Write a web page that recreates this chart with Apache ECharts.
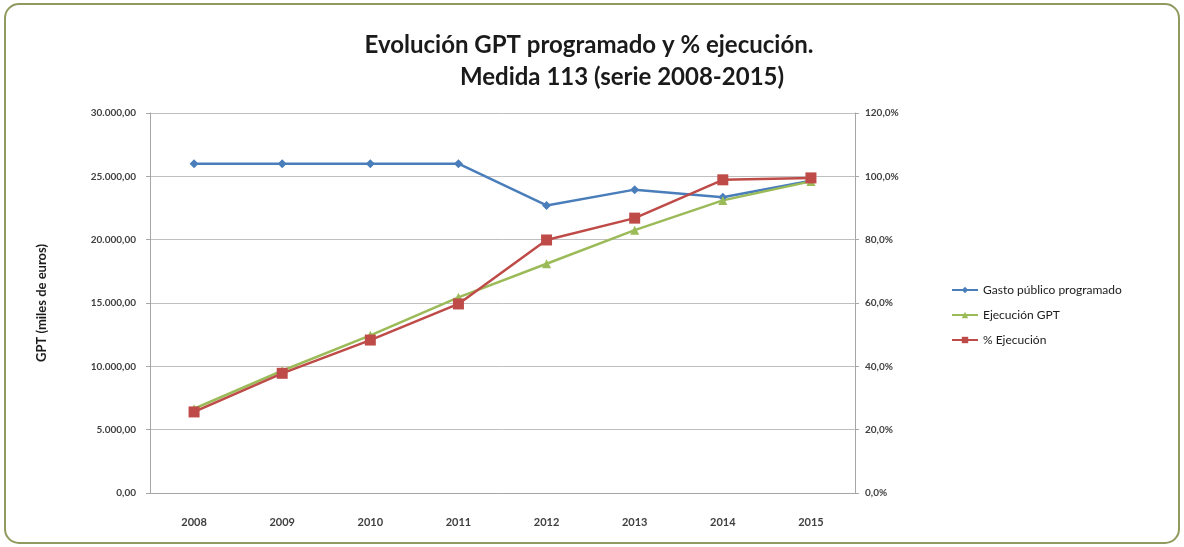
<!DOCTYPE html>
<html>
<head>
<meta charset="utf-8">
<script src="https://cdn.jsdelivr.net/npm/echarts@6/dist/echarts.min.js"></script>
<style>
  html, body { margin: 0; padding: 0; background: #fff; }
  #chart { width: 1184px; height: 547px; }
</style>
</head>
<body>
<div id="chart"></div>
<script>
// datos
const years = ['2008', '2009', '2010', '2011', '2012', '2013', '2014', '2015'];
const gastoProgramado = [26000, 26000, 26000, 26000, 22700, 23950, 23350, 24650];
const ejecucionGPT = [6650, 9650, 12450, 15450, 18100, 20750, 23100, 24600];
const pctEjecucion = [25.6, 37.8, 48.3, 59.7, 79.9, 86.8, 98.9, 99.5];

const fmtMiles = (v) => {
  const s = Math.round(v).toString().replace(/\B(?=(\d{3})+(?!\d))/g, '.');
  return s + ',00';
};
const fmtPct = (v) => v.toFixed(1).replace('.', ',') + '%';

const chartDom = document.getElementById('chart');
const myChart = echarts.init(chartDom);

const axisLabelStyle = { color: '#404040', fontSize: 10, fontWeight: 'bold', fontFamily: 'Lato' };
const titleStyle = { fontFamily: 'Lato', fontSize: 24, fontWeight: 'bold', color: '#1a1a1a' };

const option = {
  backgroundColor: '#fff',
  graphic: [
    {
      type: 'rect',
      shape: { x: 5, y: 4, width: 1174, height: 539, r: 14 },
      style: { fill: 'none', stroke: '#8f9a5e', lineWidth: 2 },
      silent: true
    }
  ],
  title: [
    {
      text: 'Evolución GPT programado y % ejecución.',
      left: 584, top: 28, textAlign: 'center',
      textStyle: titleStyle
    },
    {
      text: 'Medida 113 (serie 2008-2015)',
      left: 617, top: 60, textAlign: 'center',
      textStyle: titleStyle
    }
  ],
  legend: {
    orient: 'vertical',
    left: 946, top: 279,
    itemGap: 13,
    itemWidth: 26, itemHeight: 8,
    textStyle: { fontFamily: 'Lato', fontSize: 12, color: '#1a1a1a' },
    data: ['Gasto público programado', 'Ejecución GPT', '% Ejecución']
  },
  grid: { left: 150, right: 329, top: 113, bottom: 54 },
  xAxis: {
    type: 'category',
    data: years,
    boundaryGap: true,
    axisLine: { lineStyle: { color: '#a6a6a6' } },
    axisTick: { show: false },
    axisLabel: Object.assign({}, axisLabelStyle, { margin: 24, fontSize: 11 })
  },
  yAxis: [
    {
      type: 'value',
      min: 0, max: 30000, interval: 5000,
      name: 'GPT (miles de euros)',
      nameLocation: 'middle',
      nameGap: 102,
      nameTextStyle: { fontFamily: 'Lato', fontSize: 13, fontWeight: 'bold', color: '#1a1a1a' },
      axisLine: { show: true, lineStyle: { color: '#a6a6a6' } },
      axisTick: { show: true, length: 4, lineStyle: { color: '#a6a6a6' } },
      splitLine: { lineStyle: { color: '#bfbfbf', width: 1 } },
      axisLabel: Object.assign({ margin: 14, formatter: fmtMiles }, axisLabelStyle)
    },
    {
      type: 'value',
      min: 0, max: 120, interval: 20,
      position: 'right',
      axisLine: { show: true, lineStyle: { color: '#a6a6a6' } },
      axisTick: { show: true, length: 4, lineStyle: { color: '#a6a6a6' } },
      splitLine: { show: false },
      axisLabel: Object.assign({ margin: 10, formatter: fmtPct }, axisLabelStyle)
    }
  ],
  series: [
    {
      name: 'Gasto público programado',
      type: 'line',
      data: gastoProgramado,
      symbol: 'diamond', symbolSize: 9,
      lineStyle: { color: '#4a7ebb', width: 2.5 },
      itemStyle: { color: '#4a7ebb' }
    },
    {
      name: 'Ejecución GPT',
      type: 'line',
      data: ejecucionGPT,
      symbol: 'triangle', symbolSize: 9,
      lineStyle: { color: '#9bbb59', width: 2.5 },
      itemStyle: { color: '#9bbb59' }
    },
    {
      name: '% Ejecución',
      type: 'line',
      yAxisIndex: 1,
      data: pctEjecucion,
      symbol: 'rect', symbolSize: 11,
      lineStyle: { color: '#be4b48', width: 2.5 },
      itemStyle: { color: '#be4b48' }
    }
  ]
};

myChart.setOption(option);
</script>
</body>
</html>
